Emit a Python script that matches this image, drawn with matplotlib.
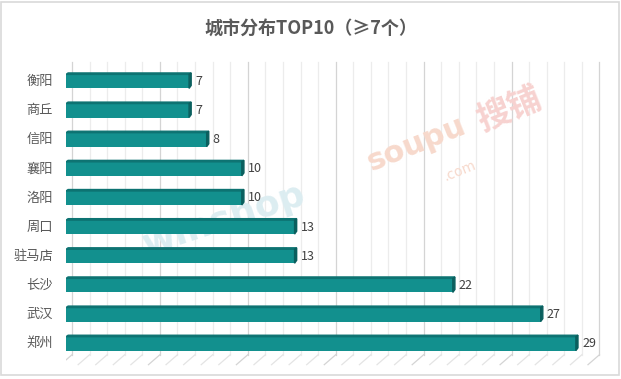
import numpy as np
import matplotlib
matplotlib.use('Agg')
import matplotlib.pyplot as plt
from matplotlib.patches import Polygon, Rectangle

plt.rcParams['font.family'] = ['Noto Sans CJK SC', 'DejaVu Sans']

# data (top to bottom)
cities = ['衡阳', '商丘', '信阳', '襄阳', '洛阳', '周口', '驻马店', '长沙', '武汉', '郑州']
counts = [7, 7, 8, 10, 10, 13, 13, 22, 27, 29]
title = '城市分布TOP10（≥7个）'

face = '#12908e'
top_c = '#0d7372'
side_c = '#0a5f5e'
depth_x = 0.34      # 3d offset of the back wall
bar_h = 0.48

fig = plt.figure(figsize=(6.21, 3.79), dpi=100)
ax = fig.add_axes([66 / 621, 12 / 379, 538 / 621, 306 / 379])
ax.set_xlim(0, 30.6)
ax.set_ylim(9.8, -0.7)
ax.axis('off')

# back wall gridlines + floor ticks
y_top, y_floor = -0.65, 9.38
for v in range(0, 31):
    major = v % 5 == 0
    col = '#d4d4d4' if major else '#ececec'
    ax.plot([v + depth_x, v + depth_x], [y_top, y_floor], color=col, lw=0.9, zorder=0)
    ax.plot([v + depth_x, v + depth_x - 0.65], [y_floor, y_floor + 0.34],
            color='#d4d4d4' if major else '#e4e4e4', lw=0.9, zorder=0)

# watermarks (behind bars)
ax.text(0.67, 0.62, 'soupu', transform=fig.transFigure, fontsize=22, color='#f7d9cc',
        rotation=22, ha='center', va='center', family='DejaVu Sans', fontweight='bold', zorder=1)
ax.text(0.82, 0.71, '搜铺', transform=fig.transFigure, fontsize=24, color='#f7d2d0',
        rotation=22, ha='center', va='center', fontweight='bold', zorder=1)
ax.text(0.74, 0.55, '.com', transform=fig.transFigure, fontsize=10, color='#f7d9cc',
        rotation=22, ha='center', va='center', family='DejaVu Sans', zorder=1)
ax.text(0.36, 0.42, 'winshop', transform=fig.transFigure, fontsize=26, color='#dcedf1',
        rotation=18, ha='center', va='center', family='DejaVu Sans', fontweight='bold', zorder=1)

# bars with a fake 3d look
ypos = np.arange(len(cities))
ax.barh(ypos, counts, height=bar_h, color=face, zorder=3)
for y, c in zip(ypos, counts):
    yt = y - bar_h / 2
    ax.add_patch(Polygon([[0, yt], [c, yt], [c + 0.12, yt - 0.05], [0.12, yt - 0.05]],
                         closed=True, color=top_c, zorder=4))
    ax.add_patch(Polygon([[c, yt], [c + 0.12, yt - 0.05], [c + 0.12, y + bar_h / 2 - 0.1],
                          [c, y + bar_h / 2]], closed=True, color=side_c, zorder=4))
    ax.text(c + 0.35, y, str(c), va='center', ha='left', fontsize=9, color='#404040', zorder=5)
    ax.text(-0.75, y, cities[y], va='center', ha='right', fontsize=9.5, color='#595959')

fig.text(0.5, 0.925, title, ha='center', va='center', fontsize=13, fontweight='bold', color='#595959')

# outer frame
fig.patches.append(Rectangle((0.002, 0.01), 0.995, 0.985, transform=fig.transFigure,
                             fill=False, edgecolor='#d9d9d9', lw=1.2))

fig.savefig('out.png', dpi=100)
